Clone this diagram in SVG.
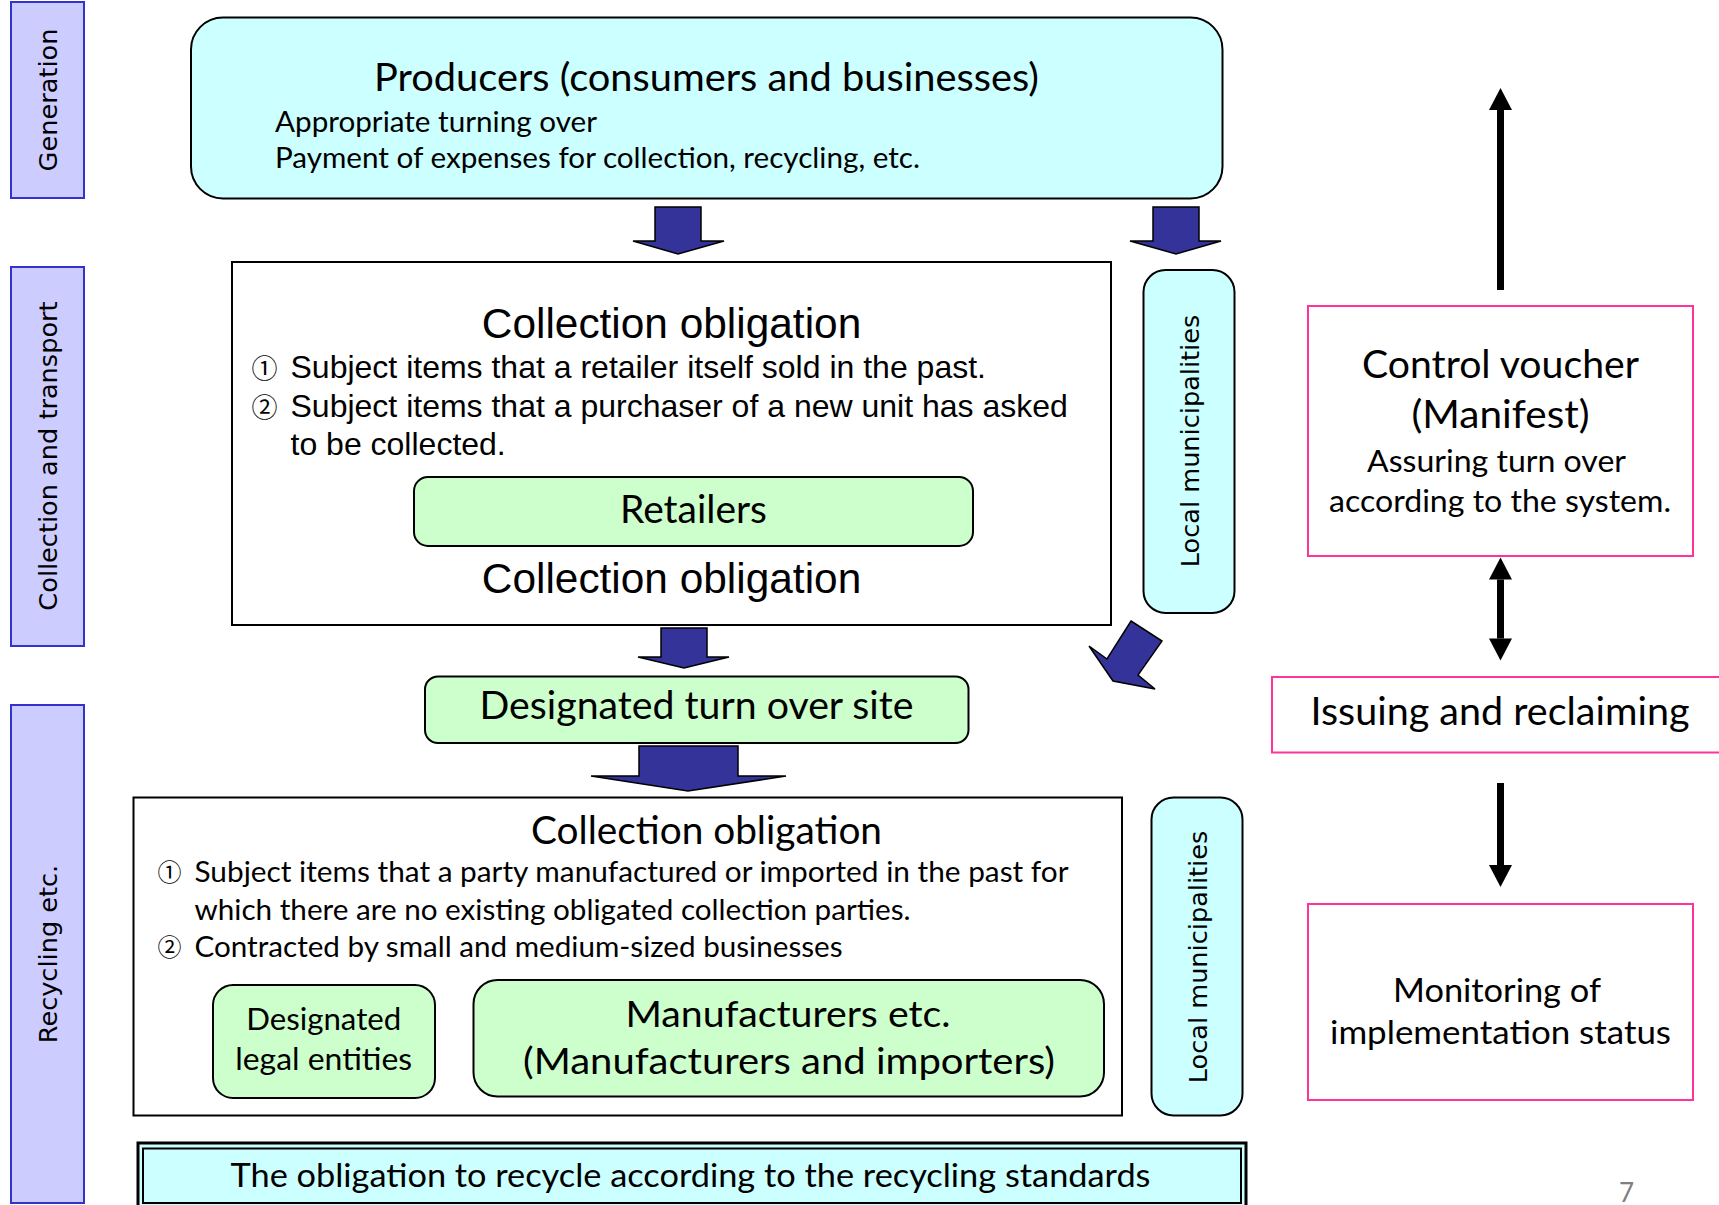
<svg xmlns="http://www.w3.org/2000/svg" width="1719" height="1205" viewBox="0 0 1719 1205">
<defs>
<style>
.band{fill:#CCCCFF;stroke:#3333CC;stroke-width:2}
.cyan{fill:#CCFFFF;stroke:#000;stroke-width:2}
.green{fill:#CCFFCC;stroke:#000;stroke-width:2}
.plain{fill:#fff;stroke:#000;stroke-width:2}
.pink{fill:#fff;stroke:#FF3399;stroke-width:2}
.blk{fill:#333399;stroke:#000;stroke-width:1.5;stroke-linejoin:miter}
.thin{stroke:#000;stroke-width:7;fill:none}
.v{font-family:"DejaVu Sans",Verdana,sans-serif;font-size:25.6px;fill:#000}
.c{font-family:Lato,"Liberation Sans",sans-serif;fill:#000}
.a{font-family:"Liberation Sans",Arial,sans-serif;fill:#000}
.n{font-family:"Noto Sans CJK JP","DejaVu Sans",sans-serif;fill:#000}
.m{text-anchor:middle}
</style>
<marker id="ah" markerUnits="userSpaceOnUse" markerWidth="23" markerHeight="23" viewBox="0 0 22 23" refX="0" refY="11.5" orient="auto-start-reverse"><path d="M0,0 L22,11.5 L0,23 z" fill="#000"/></marker>
</defs>
<rect width="1719" height="1205" fill="#fff"/>

<g id="band-generation">
<rect class="band" x="11" y="2" width="73" height="196"/>
<text class="v m" transform="translate(57,100) rotate(-90)">Generation</text>
</g>
<g id="band-collection">
<rect class="band" x="11" y="267" width="73" height="379"/>
<text class="v m" transform="translate(57,456) rotate(-90)">Collection and transport</text>
</g>
<g id="band-recycling">
<rect class="band" x="11" y="705" width="73" height="498"/>
<text class="v m" transform="translate(57,954) rotate(-90)">Recycling etc.</text>
</g>

<g id="producers">
<rect class="cyan" x="191" y="17.5" width="1031.5" height="181" rx="32"/>
<text class="c m" x="706.5" y="91" font-size="38" textLength="665" lengthAdjust="spacingAndGlyphs">Producers (consumers and businesses)</text>
<text class="c" x="275" y="131.5" font-size="28.6" textLength="322" lengthAdjust="spacingAndGlyphs">Appropriate turning over</text>
<text class="c" x="275" y="167.5" font-size="28.6" textLength="645" lengthAdjust="spacingAndGlyphs">Payment of expenses for collection, recycling, etc.</text>
</g>

<g id="collection-retailers">
<rect class="plain" x="232" y="262" width="879" height="363"/>
<text class="a m" x="671.5" y="338" font-size="42.4">Collection obligation</text>
<text class="n" x="251.5" y="378" font-size="26">①</text>
<text class="a" x="290.5" y="378" font-size="32">Subject items that a retailer itself sold in the past.</text>
<text class="n" x="251.5" y="417" font-size="26">②</text>
<text class="a" x="290.5" y="417" font-size="32">Subject items that a purchaser of a new unit has asked</text>
<text class="a" x="290.5" y="455" font-size="32">to be collected.</text>
<text class="a m" x="671.5" y="593" font-size="42.4">Collection obligation</text>
</g>
<g id="retailers">
<rect class="green" x="414" y="477" width="559" height="69" rx="14"/>
<text class="c m" x="693.5" y="523" font-size="38" textLength="147" lengthAdjust="spacingAndGlyphs">Retailers</text>
</g>

<g id="local-municipalities-1">
<rect class="cyan" x="1143.5" y="270" width="91" height="343" rx="22"/>
<text class="v m" transform="translate(1198.5,441) rotate(-90)">Local municipalities</text>
</g>

<g id="designated-site">
<rect class="green" x="425" y="676.5" width="543.5" height="66.5" rx="13"/>
<text class="c m" x="696.5" y="719" font-size="38" textLength="434" lengthAdjust="spacingAndGlyphs">Designated turn over site</text>
</g>

<g id="collection-manufacturers">
<rect class="plain" x="133.5" y="797.5" width="988.5" height="318"/>
<text class="c" x="531" y="844" font-size="38" textLength="351" lengthAdjust="spacingAndGlyphs">Collection obligation</text>
<text class="n" x="157.5" y="881" font-size="24">①</text>
<text class="c" x="194.5" y="881.5" font-size="28.6" textLength="874" lengthAdjust="spacingAndGlyphs">Subject items that a party manufactured or imported in the past for</text>
<text class="c" x="194.5" y="920" font-size="28.6" textLength="716" lengthAdjust="spacingAndGlyphs">which there are no existing obligated collection parties.</text>
<text class="n" x="157.5" y="956" font-size="24">②</text>
<text class="c" x="194.5" y="956.5" font-size="28.6" textLength="648" lengthAdjust="spacingAndGlyphs">Contracted by small and medium-sized businesses</text>
</g>
<g id="designated-legal-entities">
<rect class="green" x="213" y="985" width="222" height="113" rx="20"/>
<text class="c m" x="323.7" y="1030" font-size="30.8" textLength="155" lengthAdjust="spacingAndGlyphs">Designated</text>
<text class="c m" x="323.7" y="1070" font-size="30.8" textLength="177" lengthAdjust="spacingAndGlyphs">legal entities</text>
</g>
<g id="manufacturers">
<rect class="green" x="473.5" y="980" width="630.5" height="116.5" rx="24"/>
<text class="c m" x="788" y="1027" font-size="37.6" textLength="325" lengthAdjust="spacingAndGlyphs">Manufacturers etc.</text>
<text class="c m" x="789" y="1073.5" font-size="37.6" textLength="532" lengthAdjust="spacingAndGlyphs">(Manufacturers and importers)</text>
</g>

<g id="local-municipalities-2">
<rect class="cyan" x="1151.5" y="797.5" width="91" height="318" rx="22"/>
<text class="v m" transform="translate(1206.5,957) rotate(-90)">Local municipalities</text>
</g>

<g id="recycling-standards">
<rect x="138" y="1143" width="1108" height="70" fill="#CCFFFF" stroke="#000" stroke-width="3"/>
<rect x="143" y="1148.5" width="1098" height="54.5" fill="none" stroke="#000" stroke-width="2"/>
<text class="c m" x="690.5" y="1187" font-size="33.3" textLength="920" lengthAdjust="spacingAndGlyphs">The obligation to recycle according to the recycling standards</text>
</g>

<g id="control-voucher">
<rect class="pink" x="1308" y="306" width="385" height="250"/>
<text class="c m" x="1500.5" y="378" font-size="38" textLength="277" lengthAdjust="spacingAndGlyphs">Control voucher</text>
<text class="c m" x="1500.5" y="428" font-size="38" textLength="178" lengthAdjust="spacingAndGlyphs">(Manifest)</text>
<text class="c m" x="1496.5" y="472" font-size="31" textLength="259" lengthAdjust="spacingAndGlyphs">Assuring turn over</text>
<text class="c m" x="1500" y="512" font-size="31" textLength="342" lengthAdjust="spacingAndGlyphs">according to the system.</text>
</g>
<g id="issuing">
<rect class="pink" x="1272" y="677" width="460" height="75.5"/>
<text class="c m" x="1500" y="725" font-size="38" textLength="379" lengthAdjust="spacingAndGlyphs">Issuing and reclaiming</text>
</g>
<g id="monitoring">
<rect class="pink" x="1308" y="904" width="385" height="196"/>
<text class="c m" x="1497" y="1002" font-size="33.3" textLength="208" lengthAdjust="spacingAndGlyphs">Monitoring of</text>
<text class="c m" x="1500.5" y="1043.5" font-size="33.3" textLength="341" lengthAdjust="spacingAndGlyphs">implementation status</text>
</g>

<g id="connectors">
<polygon class="blk" points="655,207 701,207 701,241 724,241 678,254 633,241 655,241"/>
<polygon class="blk" points="1153,207 1199,207 1199,241 1221,241 1176,254 1130,241 1153,241"/>
<polygon class="blk" points="661,628 707,628 707,657 729,657 684,668 638,657 661,657"/>
<polygon class="blk" points="639,746 738,746 738,776 786,776 688,791 591,776 639,776"/>
<polygon class="blk" points="1131,621 1162,641 1138,675 1155,689 1113,681 1089,646 1107,659"/>
<line class="thin" x1="1500.5" y1="290" x2="1500.5" y2="110" marker-end="url(#ah)"/>
<line class="thin" x1="1500.5" y1="579.5" x2="1500.5" y2="638.5" marker-start="url(#ah)" marker-end="url(#ah)"/>
<line class="thin" x1="1500.5" y1="783" x2="1500.5" y2="865" marker-end="url(#ah)"/>
</g>

<text class="c" x="1619" y="1202" font-size="26" style="fill:#7F7F7F">7</text>
</svg>
